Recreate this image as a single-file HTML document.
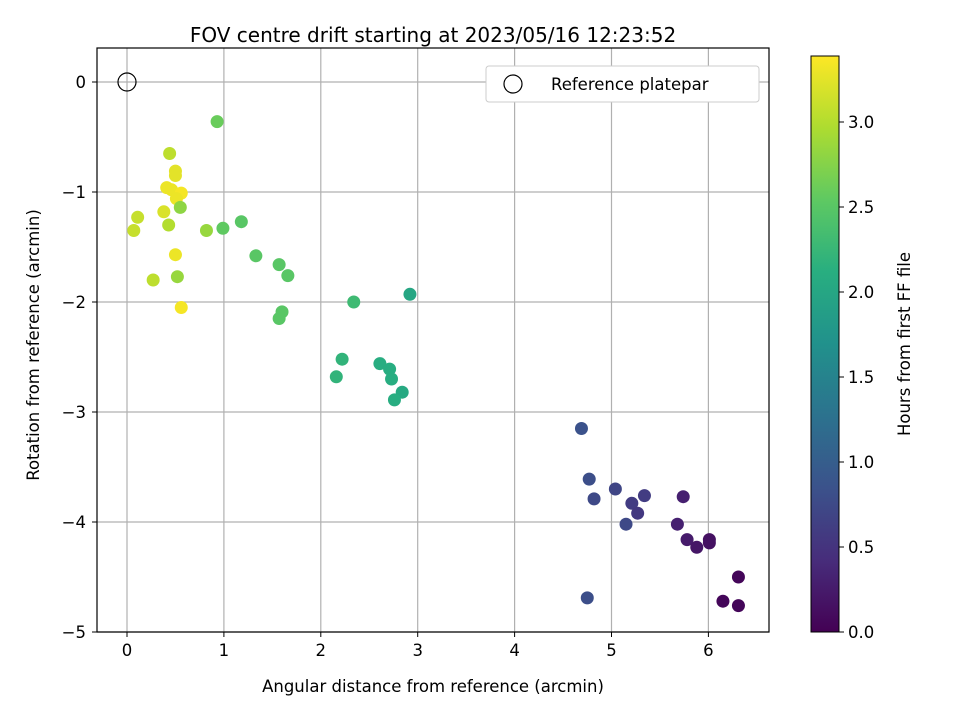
<!DOCTYPE html>
<html><head><meta charset="utf-8"><style>
body{margin:0;background:#fff;font-family:"DejaVu Sans","Liberation Sans",sans-serif}
</style></head><body>
<svg id="c" width="960" height="720" xmlns="http://www.w3.org/2000/svg" font-family="DejaVu Sans, Liberation Sans, sans-serif">
<defs><linearGradient id="vg" x1="0" y1="1" x2="0" y2="0">
<stop offset="0" stop-color="#440154"/><stop offset="0.125" stop-color="#472d7b"/><stop offset="0.25" stop-color="#3b528b"/><stop offset="0.375" stop-color="#2c728e"/><stop offset="0.5" stop-color="#21918c"/><stop offset="0.625" stop-color="#28ae80"/><stop offset="0.75" stop-color="#5ec962"/><stop offset="0.875" stop-color="#addc30"/><stop offset="1" stop-color="#fde725"/></linearGradient></defs>
<g id="grid"></g>
<g id="pts"></g>
<rect x="97" y="48" width="672" height="584" fill="none" stroke="#000" stroke-width="1.2"/>
<g id="ticks" font-size="16.5"></g>
<text x="433" y="42" font-size="20" text-anchor="middle">FOV centre drift starting at 2023/05/16 12:23:52</text>
<text x="433" y="692" font-size="16.5" text-anchor="middle">Angular distance from reference (arcmin)</text>
<text transform="translate(39,345) rotate(-90)" font-size="16.5" text-anchor="middle">Rotation from reference (arcmin)</text>
<g>
<rect x="486" y="66" width="273" height="36" rx="3" fill="#fff" stroke="#ccc"/>
<circle cx="513" cy="84" r="9" fill="none" stroke="#000" stroke-width="1.2"/>
<text x="551" y="90" font-size="16.5">Reference platepar</text>
</g>
<rect x="811" y="56" width="28" height="576" fill="url(#vg)" stroke="#000" stroke-width="1"/>
<g id="cticks" font-size="16.5"></g>
<text transform="translate(910,344) rotate(-90)" font-size="16.5" text-anchor="middle">Hours from first FF file</text>
</svg>
<script>
const xs=[0.93,0.44,0.5,0.5,0.41,0.46,0.56,0.51,0.55,0.38,0.11,0.07,0.43,0.82,0.99,1.18,1.33,0.5,1.57,1.66,0.27,0.52,0.56,1.6,1.57,2.34,2.92,2.22,2.16,2.61,2.71,2.73,2.84,2.76,4.69,4.77,4.82,5.04,5.34,5.21,5.27,5.15,5.74,5.68,5.78,5.88,6.01,6.01,4.75,6.31,6.15,6.31];
const ys=[-0.36,-0.65,-0.81,-0.85,-0.96,-0.98,-1.01,-1.06,-1.14,-1.18,-1.23,-1.35,-1.3,-1.35,-1.33,-1.27,-1.58,-1.57,-1.66,-1.76,-1.8,-1.77,-2.05,-2.09,-2.15,-2.0,-1.93,-2.52,-2.68,-2.56,-2.61,-2.7,-2.82,-2.89,-3.15,-3.61,-3.79,-3.7,-3.76,-3.83,-3.92,-4.02,-3.77,-4.02,-4.16,-4.23,-4.16,-4.19,-4.69,-4.5,-4.72,-4.76];
const hours=[2.6,3.05,3.25,3.25,3.3,3.3,3.35,3.3,2.8,3.2,3.1,3.1,3.0,2.85,2.55,2.5,2.5,3.3,2.5,2.5,3.05,2.85,3.35,2.5,2.5,2.3,2.0,2.2,2.2,2.1,2.1,2.1,2.05,2.1,0.85,0.8,0.75,0.7,0.6,0.6,0.55,0.75,0.3,0.3,0.25,0.2,0.15,0.15,0.8,0.05,0.05,0.05];
const xTicks=[0,1,2,3,4,5,6];
const yTicks=[0,-1,-2,-3,-4,-5];
const cTicks=[0,0.5,1,1.5,2,2.5,3];
const X=v=>127+v*96.9, Y=v=>82-v*110, C=v=>632-v*170;
const stops=["#440154","#472d7b","#3b528b","#2c728e","#21918c","#28ae80","#5ec962","#addc30","#fde725"];
function hex(h){return [1,3,5].map(i=>parseInt(h.substr(i,2),16));}
function vir(t){t=Math.max(0,Math.min(1,t))*8;const i=Math.min(7,Math.floor(t)),f=t-i;const a=hex(stops[i]),b=hex(stops[i+1]);return `rgb(${a.map((v,k)=>Math.round(v+(b[k]-v)*f)).join(',')})`;}
const NS="http://www.w3.org/2000/svg";
function mk(tag,attrs,parent,txt){const e=document.createElementNS(NS,tag);for(const k in attrs)e.setAttribute(k,attrs[k]);if(txt!==undefined)e.textContent=txt;document.getElementById(parent).appendChild(e);return e;}
xTicks.forEach(t=>{const l=mk('line',{x1:X(t),x2:X(t),y1:48,y2:632,stroke:'#b0b0b0','stroke-width':1.2},'grid');


const tk=mk('line',{x1:X(t),x2:X(t),y1:632,y2:637,stroke:'#000'},'ticks');


const tx=mk('text',{x:X(t),y:656,'text-anchor':'middle'},'ticks',String(t));

});
yTicks.forEach(t=>{const l=mk('line',{x1:97,x2:769,y1:Y(t),y2:Y(t),stroke:'#b0b0b0','stroke-width':1.2},'grid');


const tk=mk('line',{x1:92,x2:97,y1:Y(t),y2:Y(t),stroke:'#000'},'ticks');


const tx=mk('text',{x:86,y:Y(t)+6,'text-anchor':'end'},'ticks',t===0?'0':'\u2212'+Math.abs(t));

});
cTicks.forEach(t=>{const tk=mk('line',{x1:839,x2:844,y1:C(t),y2:C(t),stroke:'#000'},'cticks');


const tx=mk('text',{x:848,y:C(t)+6},'cticks',t.toFixed(1));

});
const ref=mk('circle',{cx:X(0),cy:Y(0),r:9,fill:'none',stroke:'#000','stroke-width':1.2},'pts');


xs.forEach((x,i)=>{const p=mk('circle',{cx:X(x),cy:Y(ys[i]),r:6.5,fill:vir(hours[i]/3.39)},'pts');

});
</script>
</body></html>
